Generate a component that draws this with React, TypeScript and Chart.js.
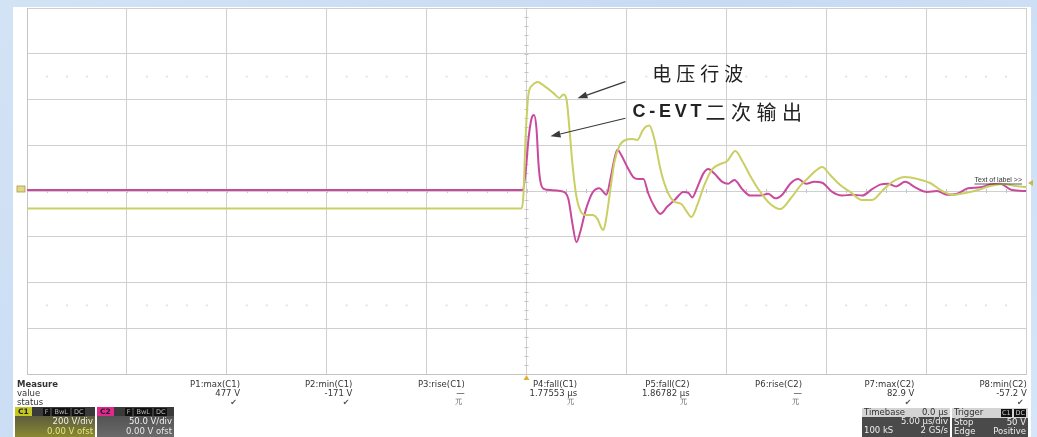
import React, { useEffect, useRef } from "react";
import { Chart, registerables } from "chart.js";

Chart.register(...registerables);

// ---- Data (time in µs, voltage in V) ----
const c1Time = [-25, -0.25, -0.15, -0.05, 0.1, 0.3, 0.55, 0.95, 1.35, 1.65, 1.85, 2.0, 2.15, 2.3, 2.5, 2.7, 2.95, 3.3, 3.55, 3.75, 3.85, 4.0, 4.2, 4.4, 4.65, 4.95, 5.3, 5.55, 5.8, 5.95, 6.15, 6.4, 6.7, 7.0, 7.35, 7.75, 8.0, 8.25, 8.55, 8.9, 9.3, 9.7, 10.05, 10.45, 10.8, 11.2, 11.7, 12.2, 12.7, 13.2, 13.7, 14.1, 14.45, 14.8, 15.2, 15.7, 16.2, 16.8, 17.3, 17.8, 18.3, 18.95, 19.6, 20.2, 20.8, 21.35, 21.95, 22.6, 23.2, 23.85, 24.45, 25];
const c1Volts = [-76, -76, -13, 227, 424, 463, 477, 455, 428, 407, 422, 402, 271, 118, -26, -87, -105, -105, -122, -162, -171, -114, 9, 127, 197, 223, 227, 223, 262, 280, 286, 227, 96, 9, -44, -57, -87, -114, -61, 26, 96, 118, 131, 175, 131, 66, -4, -57, -79, -35, 22, 57, 87, 105, 70, 26, -4, -39, -39, 0, 39, 61, 52, 35, 0, -17, -9, 4, 22, 31, 22, 17];

const c2Time = [-25, -0.2, -0.05, 0.1, 0.25, 0.38, 0.5, 0.6, 0.7, 0.9, 1.2, 1.7, 1.95, 2.1, 2.3, 2.5, 2.7, 2.95, 3.3, 3.65, 3.85, 4.0, 4.2, 4.4, 4.55, 4.75, 5.05, 5.35, 5.6, 5.85, 6.1, 6.4, 6.7, 7.05, 7.45, 7.85, 8.1, 8.3, 8.55, 8.85, 9.1, 9.4, 9.8, 10.1, 10.4, 10.8, 11.2, 11.7, 12.1, 12.45, 12.8, 13.2, 13.6, 14.0, 14.4, 14.8, 15.3, 15.8, 16.3, 16.8, 17.3, 17.7, 18.1, 18.5, 18.95, 19.45, 20.05, 20.55, 21.05, 21.55, 22.1, 22.7, 23.2, 23.7, 24.3, 25];
const c2Volts = [1, 1, 19, 57, 79, 83, 68, 30, 10, 2, 1, 0, -2, -9, -36, -56, -44, -22, -2, 3, -1, -4, 13, 35, 45, 39, 26, 15, 13, 13, -3, -17, -25, -17, -9, -1, -2, -7, 4, 19, 24, 19, 10, 8, 12, 2, -5, -5, -3, -8, -4, 8, 13, 8, 10, 9, -1, -5, -4, -5, 2, 7, 8, 5, 10, 4, -1, 0, -4, -3, 3, 4, 7, 8, 1, 0];

// scope settings
const timePerDiv = 5; // µs/div
const timeDivs = 10;
const c1VoltsPerDiv = 200;
const c2VoltsPerDiv = 50;
const voltDivs = 8;

// annotations (anchors in µs / C1 volts)
const annotationTexts = ["电压行波", "C-EVT二次输出"];
const annotationAnchors = [
  { t: 6.3, v: 512 },
  { t: 5.3, v: 345 },
];
const arrowFrom = [
  { t: 4.95, v: 478 },
  { t: 4.95, v: 318 },
];
const arrowTo = [
  { t: 2.55, v: 405 },
  { t: 1.2, v: 239 },
];

// measurement table
const measureLabels = ["P1:max(C1)", "P2:min(C1)", "P3:rise(C1)", "P4:fall(C1)", "P5:fall(C2)", "P6:rise(C2)", "P7:max(C2)", "P8:min(C2)"];
const measureValues = ["477 V", "-171 V", "—", "1.77553 µs", "1.86782 µs", "—", "82.9 V", "-57.2 V"];
const measureStatus = ["✔", "✔", "兀", "兀", "兀", "兀", "✔", "✔"];

const YELLOW = "#c9cf62";
const MAGENTA = "#c94a9c";

const overlayPlugin = {
  id: "scopeOverlay",
  beforeDatasetsDraw(chart: any) {
    const { ctx } = chart;
    const xs = chart.scales.x;
    const ys = chart.scales.y;
    ctx.save();
    const xc = xs.getPixelForValue(0);
    const yc = ys.getPixelForValue(0);
    ctx.strokeStyle = "#c4c4c4";
    ctx.lineWidth = 1;
    for (let t = -timePerDiv * timeDivs / 2; t <= timePerDiv * timeDivs / 2; t += 1) {
      const px = Math.round(xs.getPixelForValue(t)) + 0.5;
      ctx.beginPath();
      ctx.moveTo(px, yc - 2);
      ctx.lineTo(px, yc + 2);
      ctx.stroke();
    }
    for (let d = -voltDivs / 2; d <= voltDivs / 2 + 0.001; d += 0.2) {
      const py = Math.round(ys.getPixelForValue(d * c1VoltsPerDiv)) + 0.5;
      ctx.beginPath();
      ctx.moveTo(xc - 2, py);
      ctx.lineTo(xc + 2, py);
      ctx.stroke();
    }
    ctx.fillStyle = "#e4e4e4";
    for (const d of [2.5, -2.5]) {
      const py = ys.getPixelForValue(d * c1VoltsPerDiv);
      for (let t = -24; t < 25; t += 1) {
        if (t % timePerDiv === 0) continue;
        const px = xs.getPixelForValue(t);
        ctx.fillRect(px - 1, py - 1, 2, 2);
      }
    }
    ctx.restore();
  },
  afterDatasetsDraw(chart: any) {
    const { ctx, chartArea } = chart;
    const xs = chart.scales.x;
    const ys = chart.scales.y;
    ctx.save();
    ctx.strokeStyle = "#3a3a3a";
    ctx.fillStyle = "#3a3a3a";
    ctx.lineWidth = 1.2;
    for (let i = 0; i < arrowFrom.length; i++) {
      const x1 = xs.getPixelForValue(arrowFrom[i].t);
      const y1 = ys.getPixelForValue(arrowFrom[i].v);
      const x2 = xs.getPixelForValue(arrowTo[i].t);
      const y2 = ys.getPixelForValue(arrowTo[i].v);
      const ang = Math.atan2(y2 - y1, x2 - x1);
      const hl = 10, hw = 3.5;
      const bx = x2 - hl * Math.cos(ang);
      const by = y2 - hl * Math.sin(ang);
      ctx.beginPath();
      ctx.moveTo(x1, y1);
      ctx.lineTo(bx, by);
      ctx.stroke();
      ctx.beginPath();
      ctx.moveTo(x2, y2);
      ctx.lineTo(bx + hw * Math.sin(ang), by - hw * Math.cos(ang));
      ctx.lineTo(bx - hw * Math.sin(ang), by + hw * Math.cos(ang));
      ctx.closePath();
      ctx.fill();
    }
    ctx.textBaseline = "middle";
    ctx.textAlign = "left";
    ctx.fillStyle = "#222";
    {
      const a = annotationAnchors[0];
      ctx.font = '19px "Noto Sans CJK SC"';
      (ctx as any).letterSpacing = "5px";
      ctx.fillText(annotationTexts[0], xs.getPixelForValue(a.t), ys.getPixelForValue(a.v));
    }
    {
      const a = annotationAnchors[1];
      const txt = annotationTexts[1];
      const latin = txt.slice(0, 5);
      const cjk = txt.slice(5);
      let x = xs.getPixelForValue(a.t);
      const y = ys.getPixelForValue(a.v);
      ctx.font = 'bold 18px "Liberation Sans"';
      (ctx as any).letterSpacing = "3.8px";
      ctx.fillText(latin, x, y);
      x += ctx.measureText(latin).width;
      ctx.font = '20px "Noto Sans CJK SC"';
      (ctx as any).letterSpacing = "5.5px";
      ctx.fillText(cjk, x, y);
    }
    (ctx as any).letterSpacing = "0px";
    const lx = chartArea.right - 4;
    const ly = ys.getPixelForValue(0) - 11;
    ctx.font = '7px "Liberation Sans"';
    ctx.textAlign = "right";
    ctx.fillStyle = "#333";
    ctx.fillText("Text of label >>", lx, ly);
    const w = ctx.measureText("Text of label >>").width;
    ctx.strokeStyle = "#333";
    ctx.lineWidth = 0.8;
    ctx.beginPath();
    ctx.moveTo(lx - w, ly + 4);
    ctx.lineTo(lx, ly + 4);
    ctx.stroke();
    ctx.fillStyle = "#c8b84a";
    ctx.beginPath();
    ctx.moveTo(chartArea.right + 2, ly + 3);
    ctx.lineTo(chartArea.right + 7, ly);
    ctx.lineTo(chartArea.right + 7, ly + 6);
    ctx.closePath();
    ctx.fill();
    const gy = ys.getPixelForValue(0);
    ctx.fillStyle = "#e2d68a";
    ctx.strokeStyle = "#a89a40";
    ctx.lineWidth = 0.8;
    ctx.fillRect(chartArea.left - 10, gy - 5, 8, 6);
    ctx.strokeRect(chartArea.left - 10, gy - 5, 8, 6);
    const tx = xs.getPixelForValue(0);
    ctx.fillStyle = "#e0b030";
    ctx.beginPath();
    ctx.moveTo(tx, chartArea.bottom + 1);
    ctx.lineTo(tx - 3, chartArea.bottom + 6);
    ctx.lineTo(tx + 3, chartArea.bottom + 6);
    ctx.closePath();
    ctx.fill();
    ctx.restore();
  },
};

const tableFont = '"DejaVu Sans", "Liberation Sans", sans-serif';

function ChannelBox(props: { left: number; width: number; label: string; labelBg: string; body: string; l1: string; l2: string; l2Color: string }) {
  const { left, width, label, labelBg, body, l1, l2, l2Color } = props;
  return (
    <div style={{ position: "absolute", left, top: 407, width, height: 30, background: body, fontFamily: tableFont, fontSize: 8.5, lineHeight: "9.5px", overflow: "hidden" }}>
      <div style={{ height: 9, background: "#3a3a3a", display: "flex", alignItems: "center", gap: 2 }}>
        <span style={{ background: labelBg, color: "#222", fontWeight: "bold", padding: "0 3px", fontSize: 7.5, lineHeight: "9px" }}>{label}</span>
        <span style={{ marginLeft: 9, background: "#111", color: "#bbb", fontSize: 6.5, padding: "0 2px", lineHeight: "8px" }}>F</span>
        <span style={{ background: "#111", color: "#bbb", fontSize: 6.5, padding: "0 2px", lineHeight: "8px" }}>BwL</span>
        <span style={{ background: "#111", color: "#bbb", fontSize: 6.5, padding: "0 2px", lineHeight: "8px" }}>DC</span>
      </div>
      <div style={{ textAlign: "right", paddingRight: 2, color: "#f0f0f0", marginTop: 1 }}>{l1}</div>
      <div style={{ textAlign: "right", paddingRight: 2, color: l2Color }}>{l2}</div>
    </div>
  );
}

export default function App() {
  const canvasRef = useRef<HTMLCanvasElement | null>(null);

  useEffect(() => {
    if (!canvasRef.current) return;
    const c1Data = c1Time.map((t, i) => ({ x: t, y: c1Volts[i] }));
    const c2Data = c2Time.map((t, i) => ({ x: t, y: c2Volts[i] }));
    const halfT = (timePerDiv * timeDivs) / 2;
    const chart = new Chart(canvasRef.current, {
      type: "line",
      data: {
        datasets: [
          { label: "C1", data: c1Data, yAxisID: "y", borderColor: YELLOW, borderWidth: 2, pointRadius: 0, cubicInterpolationMode: "monotone", fill: false },
          { label: "C2", data: c2Data, yAxisID: "y2", borderColor: MAGENTA, borderWidth: 2, pointRadius: 0, cubicInterpolationMode: "monotone", fill: false },
        ],
      },
      options: {
        animation: false,
        responsive: false,
        events: [],
        layout: { padding: { left: 27, top: 8, right: 11, bottom: 63 } },
        plugins: { legend: { display: false }, tooltip: { enabled: false }, title: { display: false } },
        scales: {
          x: {
            type: "linear",
            min: -halfT,
            max: halfT,
            ticks: { stepSize: timePerDiv, display: false },
            grid: { color: "#cfcfcf", lineWidth: 1, drawTicks: false },
            border: { color: "#c4c4c4" },
          },
          y: {
            type: "linear",
            min: -c1VoltsPerDiv * voltDivs / 2,
            max: c1VoltsPerDiv * voltDivs / 2,
            ticks: { stepSize: c1VoltsPerDiv, display: false },
            grid: { color: "#cfcfcf", lineWidth: 1, drawTicks: false },
            border: { color: "#c4c4c4" },
          },
          y2: {
            type: "linear",
            display: false,
            min: -c2VoltsPerDiv * voltDivs / 2,
            max: c2VoltsPerDiv * voltDivs / 2,
          },
        },
      },
      plugins: [overlayPlugin],
    } as any);
    return () => chart.destroy();
  }, []);

  const colRight0 = 240;
  const colStep = 112.4;

  return (
    <div style={{ position: "absolute", left: 0, top: 0, width: 1037, height: 437, overflow: "hidden", background: "linear-gradient(135deg, #d3e3f6 0%, #c6daf2 50%, #d6e6f8 100%)" }}>
      <div style={{ position: "absolute", left: 13, top: 7, width: 1018, height: 430, background: "#ffffff" }} />
      <canvas ref={canvasRef} width={1037} height={437} style={{ position: "absolute", left: 0, top: 0, width: 1037, height: 437 }} />
      <div style={{ position: "absolute", left: 0, top: 0, width: 1037, height: 437, fontFamily: tableFont, fontSize: 8.5, color: "#333", lineHeight: "9px" }}>
        <div style={{ position: "absolute", left: 17, top: 380 }}>
          <div style={{ fontWeight: "bold" }}>Measure</div>
          <div>value</div>
          <div>status</div>
        </div>
        {measureLabels.map((lab, i) => (
          <div key={lab} style={{ position: "absolute", left: colRight0 + i * colStep - 100, width: 100, top: 380, textAlign: "right" }}>
            <div>{lab}</div>
            <div>{measureValues[i]}</div>
            <div style={{ paddingRight: 3, color: "#555", fontSize: measureStatus[i] === "✔" ? 8 : 7 }}>{measureStatus[i]}</div>
          </div>
        ))}
        <ChannelBox left={15} width={80} label="C1" labelBg="#c4c820" body="linear-gradient(180deg, #4a4a40 0%, #6f6f3a 60%, #8a8a30 100%)" l1="200 V/div" l2="0.00 V ofst" l2Color="#e6e67a" />
        <ChannelBox left={97} width={77} label="C2" labelBg="#e0288e" body="linear-gradient(180deg, #4a4a4a 0%, #6a6a6a 100%)" l1="50.0 V/div" l2="0.00 V ofst" l2Color="#e8e8e8" />
        <div style={{ position: "absolute", left: 862, top: 408, width: 88, height: 29, background: "#4a4a4a", fontSize: 8.5, color: "#eee", overflow: "hidden" }}>
          <div style={{ background: "#d4d4d4", color: "#333", display: "flex", justifyContent: "space-between", padding: "0 2px" }}>
            <span>Timebase</span><span>0.0 µs</span>
          </div>
          <div style={{ textAlign: "right", padding: "0 2px" }}>5.00 µs/div</div>
          <div style={{ display: "flex", justifyContent: "space-between", padding: "0 2px" }}>
            <span>100 kS</span><span>2 GS/s</span>
          </div>
        </div>
        <div style={{ position: "absolute", left: 952, top: 408, width: 76, height: 29, background: "#4a4a4a", fontSize: 8.5, color: "#eee", overflow: "hidden" }}>
          <div style={{ background: "#d4d4d4", color: "#333", display: "flex", justifyContent: "space-between", padding: "0 2px" }}>
            <span>Trigger</span>
            <span><span style={{ background: "#111", color: "#ccc", fontSize: 6.5, padding: "0 1px" }}>C1</span> <span style={{ background: "#111", color: "#ccc", fontSize: 6.5, padding: "0 1px" }}>DC</span></span>
          </div>
          <div style={{ display: "flex", justifyContent: "space-between", padding: "0 2px" }}>
            <span>Stop</span><span>50 V</span>
          </div>
          <div style={{ display: "flex", justifyContent: "space-between", padding: "0 2px" }}>
            <span>Edge</span><span>Positive</span>
          </div>
        </div>
      </div>
    </div>
  );
}
